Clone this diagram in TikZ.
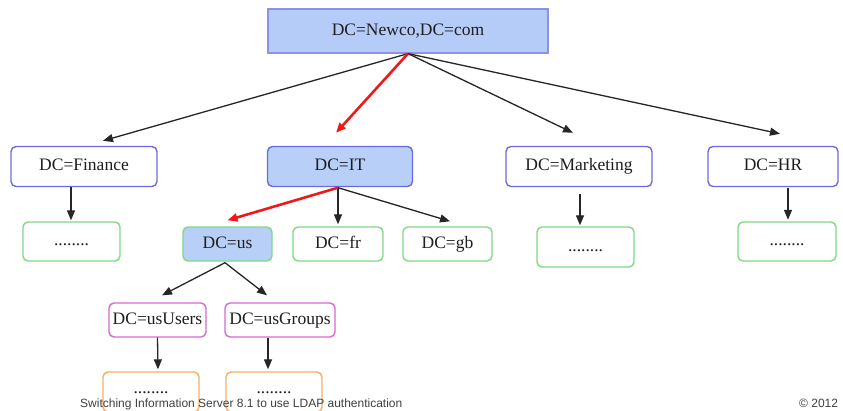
\documentclass[tikz,border=0pt]{standalone}
\usepackage{fontspec}
\setmainfont{Liberation Serif}
\newfontfamily\footfont{Liberation Sans}
\usetikzlibrary{arrows.meta}
\definecolor{rootfill}{HTML}{B5CCF8}
\definecolor{rootline}{HTML}{9090E6}
\definecolor{bluefill}{HTML}{B8CFF7}
\definecolor{blueline}{HTML}{6A6AE2}
\definecolor{greenline}{HTML}{80DA80}
\definecolor{pinkline}{HTML}{D866D8}
\definecolor{orangeline}{HTML}{F6AE68}
\definecolor{redline}{HTML}{EE1A1A}
\definecolor{txt}{HTML}{1E1E1E}
\tikzset{
  box/.style={rectangle, rounded corners=5pt, line width=1.4pt, inner sep=0pt,
    font=\fontsize{17.5}{19}\selectfont, text=txt, text height=12pt, text depth=3.5pt},
  bluebox/.style={box, draw=blueline, fill=white},
  greenbox/.style={box, draw=greenline, fill=white},
  pinkbox/.style={box, draw=pinkline, fill=white},
  orangebox/.style={box, draw=orangeline, fill=white, text height=2pt, text depth=0pt},
  arr/.style={-{Triangle[length=10pt,width=8pt]}, line width=1.3pt, draw=black!85},
  redarr/.style={-{Triangle[length=10pt,width=8pt]}, line width=2.6pt, draw=redline},
}
\begin{document}
\begin{tikzpicture}[x=1pt,y=-1pt]
\useasboundingbox (0,0) rectangle (843,410);
\clip (0,0) rectangle (843,410);
\fill[white] (0,0) rectangle (843,410);
% nodes
\node[box, draw=rootline, fill=rootfill, line width=1.2pt, rounded corners=0pt, minimum width=280pt, minimum height=44pt] (root) at (408,31) {DC=Newco,DC=com};
\node[bluebox, minimum width=146pt, minimum height=40pt] (fin) at (84,166.5) {DC=Finance};
\node[box, draw=blueline, fill=bluefill, minimum width=145pt, minimum height=40pt] (it) at (340,166.5) {DC=IT};
\node[bluebox, minimum width=146pt, minimum height=40pt] (mkt) at (579,166.5) {DC=Marketing};
\node[bluebox, minimum width=130pt, minimum height=40pt] (hr) at (773,166.5) {DC=HR};
\node[greenbox, minimum width=97pt, minimum height=39pt] (finc) at (71.5,241.5) {........};
\node[greenbox, minimum width=97pt, minimum height=40pt] (mktc) at (585.5,247) {........};
\node[greenbox, minimum width=98pt, minimum height=39pt] (hrc) at (787,241.5) {........};
\node[box, draw=greenline, fill=bluefill, minimum width=89pt, minimum height=34pt] (us) at (227.5,244) {DC=us};
\node[greenbox, minimum width=90pt, minimum height=34pt] (fr) at (338,244) {DC=fr};
\node[greenbox, minimum width=89pt, minimum height=34pt] (gb) at (447.5,244) {DC=gb};
\node[pinkbox, minimum width=97pt, minimum height=34pt] (uu) at (157.5,320) {DC=usUsers};
\node[pinkbox, minimum width=110pt, minimum height=34pt] (ug) at (280,320) {DC=usGroups};
\node[orangebox, minimum width=96pt, minimum height=40pt] (uuc) at (151,392) {........};
\node[orangebox, minimum width=96pt, minimum height=40pt] (ugc) at (274,392) {........};
% connectors
\draw[arr] (root.south) -- ([shift={(19,-5)}]fin.north);
\draw[arr] (root.south) -- ([shift={(-6,-13)}]mkt.north);
\draw[arr] (root.south) -- ([shift={(7,-12)}]hr.north);
\draw[redarr] (root.south) -- ([shift={(-4,-13)}]it.north);
\draw[arr] ([xshift=-13pt]fin.south) -- ([shift={(-0.5,-1)}]finc.north);
\draw[arr] ([shift={(1,6.5)}]mkt.south) -- ([shift={(-5.5,-1)}]mktc.north);
\draw[arr] ([shift={(15,0.5)}]hr.south) -- ([shift={(1,-1.5)}]hrc.north);
\draw[arr] ([shift={(-2,0.5)}]it.south) -- ([shift={(0,-2)}]fr.north);
\draw[arr] ([shift={(-2,0.5)}]it.south) -- ([shift={(2.5,-5)}]gb.north);
\draw[redarr] ([shift={(-2,0.5)}]it.south) -- ([shift={(0,-6)}]us.north);
\draw[arr] ([shift={(-2.5,1)}]us.south) -- ([shift={(4.5,-7)}]uu.north);
\draw[arr] ([shift={(-2.5,1)}]us.south) -- ([shift={(-13,-7)}]ug.north);
\draw[arr] (uu.south) -- ([shift={(7,-2)}]uuc.north);
\draw[arr] ([xshift=-12pt]ug.south) -- ([shift={(-6,-2)}]ugc.north);
% footer
\node[anchor=base west, inner sep=0pt, font=\footfont\fontsize{12}{14}\selectfont, text=black!75] (foot) at (80,407.5) {Switching Information Server 8.1 to use LDAP authentication};
\node[anchor=base west, inner sep=0pt, font=\footfont\fontsize{12}{14}\selectfont, text=black!75] (copy) at (799,407.5) {© 2012};
\end{tikzpicture}
\end{document}
